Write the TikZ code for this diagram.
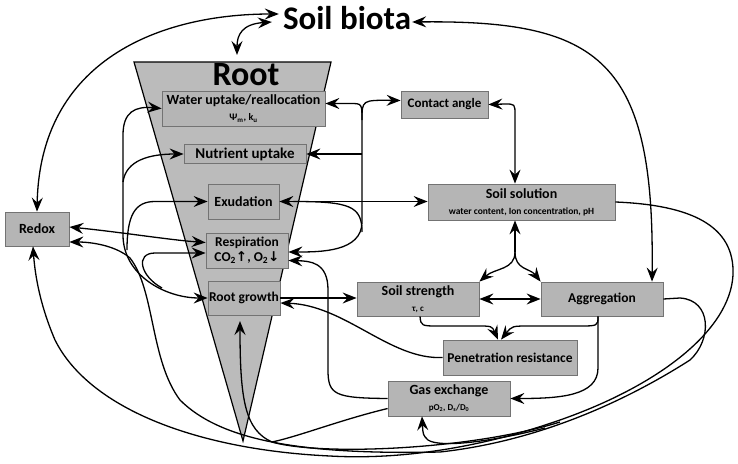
\documentclass[tikz,border=0pt]{standalone}
\usepackage{fontspec}
\setmainfont{Carlito}
\newfontfamily\arrowfont{DejaVu Sans}
\usetikzlibrary{arrows.meta}
\definecolor{boxgray}{RGB}{181,181,181}
\definecolor{rootgray}{RGB}{187,187,187}
\definecolor{boxedge}{RGB}{115,115,115}

\begin{document}
\begin{tikzpicture}[x=1pt, y=-1pt,
    factor/.style={rectangle, draw=boxedge, fill=boxgray, line width=0.8pt, align=center, inner sep=1pt, font=\bfseries\fontsize{14}{15}\selectfont},
    arrow/.style={-{Stealth[length=14pt, width=11pt, inset=5pt]}, line width=1.3pt},
    twoway/.style={{Stealth[length=14pt, width=11pt, inset=5pt]}-{Stealth[length=14pt, width=11pt, inset=5pt]}, line width=1.3pt},
    wire/.style={line width=1.3pt}
]
\useasboundingbox (0,0) rectangle (738,463);

% Root wedge
\draw[fill=rootgray, line width=1.2pt] (134,62) -- (331,62) -- (243,441) -- cycle;
\coordinate (rootTop) at (237,55);
\coordinate (rootIn) at (240,321);
\node[font=\bfseries\fontsize{34}{36}\selectfont, inner sep=0pt] (roottitle) at (246,75) {Root};

% Title
\node[font=\bfseries\fontsize{33}{34}\selectfont, inner sep=1pt] (biota) at (347,18) {Soil biota};

% Processes inside the root
\node[factor, minimum width=163pt, minimum height=35pt] (water) at (243.5,108.5) {Water uptake/reallocation\\[1pt]{\fontsize{10}{11}\selectfont Ψ\textsubscript{m}, k\textsubscript{u}}};
\node[factor, minimum width=122pt, minimum height=19pt, font=\bfseries\fontsize{15}{16}\selectfont] (nutrient) at (245,154) {Nutrient uptake};
\node[factor, minimum width=71pt, minimum height=35pt] (exud) at (243.5,201.5) {Exudation};
\node[factor, minimum width=82pt, minimum height=35pt, font=\bfseries\fontsize{13.5}{15}\selectfont] (resp) at (247,250.5) {Respiration\\CO\textsubscript{2}{\arrowfont\bfseries ↑}, O\textsubscript{2}{\arrowfont\bfseries ↓}};
\node[factor, minimum width=72pt, minimum height=34pt, font=\bfseries\fontsize{13.5}{15}\selectfont] (growth) at (244,298) {Root growth};

% Soil factors
\node[factor, minimum width=87pt, minimum height=27pt, font=\bfseries\fontsize{13}{14}\selectfont] (contact) at (444.5,104.5) {Contact angle};
\node[factor, minimum width=187pt, minimum height=36pt] (solution) at (521.5,202) {Soil solution\\[1pt]{\fontsize{9.5}{10}\selectfont water content, Ion concentration, pH}};
\node[factor, minimum width=122pt, minimum height=34pt] (strength) at (418,299) {Soil strength\\[1pt]{\fontsize{9}{10}\selectfont τ, c}};
\node[factor, minimum width=122pt, minimum height=34pt, font=\bfseries\fontsize{13.5}{15}\selectfont] (aggreg) at (602,299) {Aggregation};
\node[factor, minimum width=134pt, minimum height=35pt, font=\bfseries\fontsize{13.5}{15}\selectfont] (penet) at (510,357.5) {Penetration resistance};
\node[factor, minimum width=122pt, minimum height=35pt] (gas) at (449,398.5) {Gas exchange\\[1pt]{\fontsize{9}{10}\selectfont pO\textsubscript{2}, D\textsubscript{s}/D\textsubscript{0}}};
\node[factor, minimum width=64pt, minimum height=34pt] (redox) at (37,229) {Redox};

% Soil biota links
\draw[twoway] ([xshift=-3pt, yshift=4pt]biota.west) .. controls (160,14) and (40,60) .. (redox.north);
\draw[twoway] ([xshift=-10pt, yshift=-4pt]biota.west) .. controls (242,24) and (237,35) .. (rootTop);
\draw[twoway] ([yshift=-4pt]biota.east) .. controls (600,20) and (655,60) .. ([xshift=50pt]aggreg.north);

% Right-hand bus of the root
\coordinate (busTop) at (362,120);
\draw[twoway] ([yshift=5pt]water.east) -- (350,103.5) .. controls (362,103.5) .. (busTop) -- (362,222) .. controls (362,252) and (320,252) .. ([yshift=-1.5pt]resp.east);
\draw[arrow] (busTop) .. controls (362,100) .. ([yshift=4pt]contact.west);
\draw[arrow] (busTop |- nutrient.east) -- (nutrient.east);
\draw[twoway] (exud.east) -- (exud.east -| solution.west);
\draw[wire] ([xshift=14pt]exud.east) .. controls (350,201.5) and (362,206) .. (362,232);
\draw[twoway] (contact.east) -- (505,104) .. controls (515,104) .. (515,115) -- ([xshift=-6.5pt]solution.north);

% Soil solution split
\coordinate (solSplit) at (515,252);
\draw[arrow] (solSplit) -- ([xshift=-6.5pt]solution.south);
\draw[arrow] (solSplit) .. controls (515,270) and (495,268) .. (strength.north east);
\draw[arrow] (solSplit) .. controls (515,270) and (530,268) .. (aggreg.north west);
\draw[twoway] (strength.east) -- (aggreg.west);
\draw[arrow] (growth.east) -- (growth.east -| strength.west);

% Penetration resistance
\draw[arrow] ([xshift=2pt]strength.south) .. controls (421,326) .. (440,326) -- (476,326) .. controls (492,326) .. ([xshift=-12pt]penet.north);
\draw[arrow] ([xshift=-4pt]aggreg.south) .. controls (598,326) .. (578,326) -- (530,326) .. controls (512,326) .. ([xshift=-9pt]penet.north);
\draw[arrow] ([xshift=-4pt]aggreg.south) -- (598,368) .. controls (598,396) and (560,398.5) .. (gas.east);
\draw[arrow] (penet.west) .. controls (390,360) and (345,305) .. ([yshift=-5pt]growth.east);

% Gas exchange
\draw[arrow] (gas.west) .. controls (335,398) and (328,395) .. (328,370) -- (328,290) .. controls (328,262) and (310,261) .. ([yshift=-10pt]resp.east);
\draw[wire] ([yshift=-10pt]gas.west) .. controls (340,420) and (300,436) .. (272,442);

% Left-hand loops
\draw[twoway] (water.west) .. controls (135,106) and (123,112) .. (123,135) -- (123,235) .. controls (123,275) and (165,298) .. (growth.west);
\draw[arrow] (123,182) .. controls (126,160) and (150,154) .. (nutrient.west);
\draw[arrow] (127,250) .. controls (127,215) and (135,201.5) .. (155,201.5) -- (exud.west);
\draw[arrow] (162,288) .. controls (140,276) and (135,253) .. (155,253) -- ([yshift=-2.5pt]resp.west);
\draw[twoway] ([yshift=2pt]redox.east) .. controls (120,232) and (170,240) .. ([yshift=8pt]resp.west);

% Long loops round the bottom
\draw[arrow] (aggreg.east) -- (680,298) .. controls (712,300) and (712,340) .. (690,360) .. controls (640,392) and (550,440) .. (440,452) .. controls (300,455) and (220,440) .. (180,400) .. controls (150,360) and (155,290) .. (130,258) .. controls (115,245) and (90,242) .. ([yshift=-13pt]redox.east);
\draw[arrow] (solution.east) .. controls (690,205) and (735,225) .. (733,275) .. controls (730,330) and (660,385) .. (560,420) .. controls (480,448) and (400,460) .. (330,456) .. controls (200,450) and (90,410) .. (55,340) .. controls (40,305) and (35,275) .. ([xshift=-4pt]redox.south);
\draw[arrow] (545,428) .. controls (490,442) and (440,448) .. (428,440) .. controls (423,435) .. ([xshift=-27pt]gas.south);
\draw[arrow] (560,422) .. controls (470,450) and (320,456) .. (272,442) .. controls (245,430) and (240,400) .. (rootIn);

\end{tikzpicture}
\end{document}
